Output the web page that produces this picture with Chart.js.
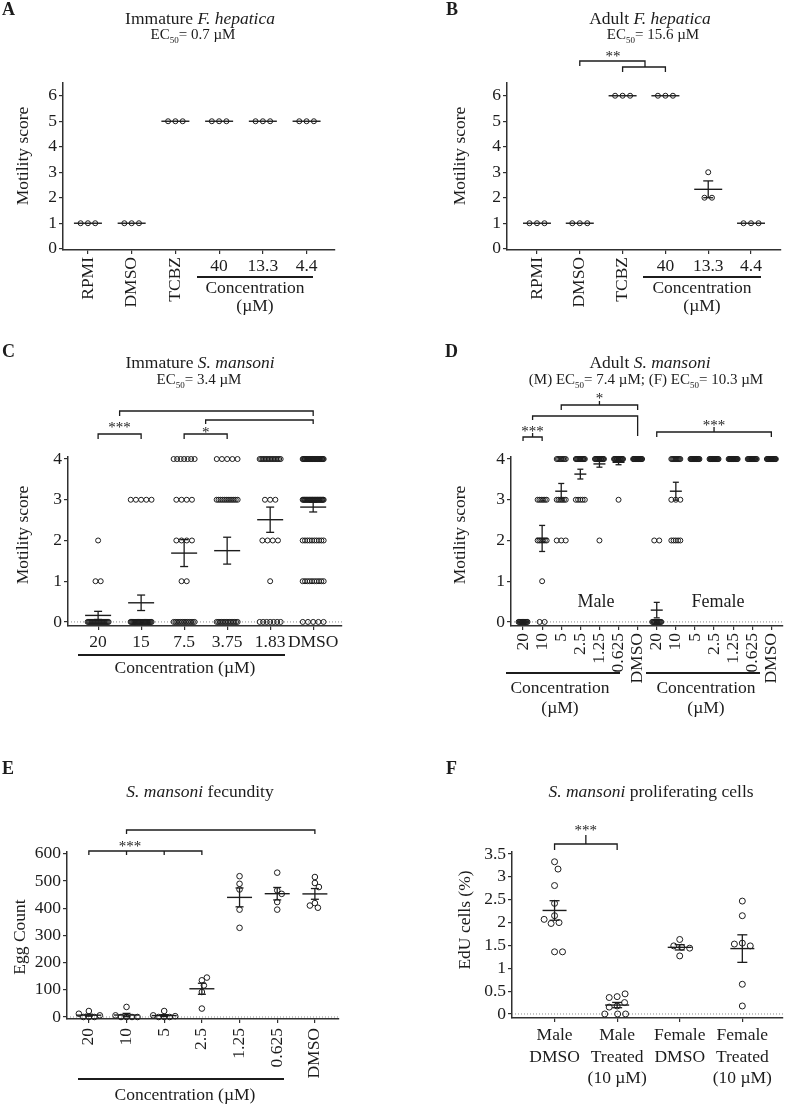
<!DOCTYPE html>
<html><head><meta charset="utf-8">
<script src="https://cdn.jsdelivr.net/npm/chart.js@4.4.0/dist/chart.umd.min.js"></script>
<style>
html,body{margin:0;padding:0;background:#fff;}
body{width:787px;height:1107px;position:relative;overflow:hidden;}
canvas{position:absolute;}
</style></head><body>
<canvas id="cA"></canvas><canvas id="cB"></canvas><canvas id="cC"></canvas>
<canvas id="cD"></canvas><canvas id="cE"></canvas><canvas id="cF"></canvas>
<script>
// ---------------- DATA ----------------
const aCats = ['RPMI','DMSO','TCBZ','40','13.3','4.4'];
const aScores = [[1,1,1],[1,1,1],[5,5,5],[5,5,5],[5,5,5],[5,5,5]];
const aMeans = [1,1,5,5,5,5];
const aSems = [0,0,0,0,0,0];

const bCats = ['RPMI','DMSO','TCBZ','40','13.3','4.4'];
const bScores = [[1,1,1],[1,1,1],[6,6,6],[6,6,6],[3,2,2],[1,1,1]];
const bMeans = [1,1,6,6,2.33,1];
const bSems = [0,0,0,0,0.33,0];

const fhTicks = [0,1,2,3,4,5,6];

// counts of worms with motility score 0,1,2,3,4
const cCats = ['20','15','7.5','3.75','1.83','DMSO'];
const cCounts = [[22,2,1,0,0],[25,0,0,5,0],[13,2,4,4,7],[14,0,0,12,5],[7,1,4,3,15],[5,10,10,30,30]];
const cMeans = [0.16,0.47,1.69,1.75,2.51,2.82];
const cSems = [0.10,0.19,0.33,0.33,0.31,0.12];

const dCats = ['20','10','5','2.5','1.25','0.625','DMSO','20','10','5','2.5','1.25','0.625','DMSO'];
const dCounts = [[12,0,0,0,0],[2,1,6,6,0],[0,0,3,6,8],[0,0,0,5,12],[0,0,1,0,14],[0,0,0,1,14],[0,0,0,0,15],
                 [12,0,2,0,0],[0,0,5,3,10],[0,0,0,0,15],[0,0,0,0,15],[0,0,0,0,15],[0,0,0,0,12],[0,0,0,0,15]];
const dMeans = [0,2.05,3.21,3.63,3.88,3.92,4,0.29,3.21,4,4,4,4,4];
const dSems = [0,0.32,0.19,0.12,0.08,0.06,0,0.19,0.22,0,0,0,0,0];

const smTicks = [0,1,2,3,4];

const eCats = ['20','10','5','2.5','1.25','0.625','DMSO'];
const eEggs = [[0,0,0,6,12,22],[0,0,0,0,6,37],[0,0,0,3,6,22],[135,145,116,92,31],
               [518,469,490,395,328],[531,466,453,423,395],[515,493,478,419,402,410]];
const eTicks = [0,100,200,300,400,500,600];

const fCats = [['Male','DMSO'],['Male','Treated','(10 µM)'],['Female','DMSO'],['Female','Treated','(10 µM)']];
const fEdu = [[3.33,3.17,2.81,2.42,2.15,2.0,1.98,2.07,1.36,1.36],
              [0.175,0.25,0.38,0.44,0.36,0.15,0,0,0],
              [1.63,1.46,1.49,1.44,1.27],
              [2.47,2.15,1.55,1.49,1.53,0.65,0.175]];
const fTicks = [0,0.5,1,1.5,2,2.5,3,3.5];

// ---------------- HELPERS ----------------
const FONT = '"Liberation Serif","Times New Roman",serif';
const INK = '#1c1c1c';
const AX = '#303030';
const TS = 17.5;

const expand = counts => counts.flatMap((n,score)=>Array(n).fill(score));
function meanSem(a){const n=a.length;const m=a.reduce((s,v)=>s+v,0)/n;
  const sd=Math.sqrt(a.reduce((s,v)=>s+(v-m)*(v-m),0)/(n-1));return [m,sd/Math.sqrt(n)];}

function fnt(size,style){return (style||'')+' '+size+'px '+FONT;}
function txt(ctx,s,x,y,o){o=o||{};ctx.save();
  ctx.font=fnt(o.size||TS,(o.italic?'italic ':'')+(o.bold?'bold ':''));
  ctx.fillStyle=INK;ctx.textAlign=o.align||'center';ctx.textBaseline=o.baseline||'alphabetic';
  if(o.rot){ctx.translate(x,y);ctx.rotate(o.rot);ctx.fillText(s,0,0);}else ctx.fillText(s,x,y);
  ctx.restore();}
function runFont(r,size){return r[1]==='i'?fnt(size,'italic '):r[1]==='s'?fnt(Math.round(size*0.62)):fnt(size);}
function runs(ctx,parts,cx,y,size){ctx.save();
  const w=parts.map(r=>{ctx.font=runFont(r,size);return ctx.measureText(r[0]).width;});
  let x=cx-w.reduce((a,b)=>a+b,0)/2;
  parts.forEach((r,i)=>{ctx.font=runFont(r,size);ctx.fillStyle=INK;ctx.textAlign='left';ctx.textBaseline='alphabetic';
    ctx.fillText(r[0],x,y+(r[1]==='s'?size*0.28:0));x+=w[i];});
  ctx.restore();}
function poly(ctx,pts,w){ctx.save();ctx.strokeStyle=INK;ctx.lineWidth=w||1.3;ctx.beginPath();
  pts.forEach((p,i)=>i?ctx.lineTo(p[0],p[1]):ctx.moveTo(p[0],p[1]));ctx.stroke();ctx.restore();}
function vLabels(ctx,X,labels,top){labels.forEach((l,i)=>txt(ctx,l,X(i),top,{rot:-Math.PI/2,align:'right',baseline:'middle'}));}
function hLabels(ctx,X,labels,base){labels.forEach((l,i)=>txt(ctx,l,X(i),base));}

function discreteLayout(vals,step,span){const g={};vals.forEach((v,i)=>{(g[v]=g[v]||[]).push(i);});
  const off=new Array(vals.length);
  Object.values(g).forEach(idx=>{const n=idx.length;const s=n>1?Math.min(step,span/(n-1)):0;
    idx.forEach((k,j)=>off[k]=(j-(n-1)/2)*s);});return off;}
function swarmLayout(vals,yPx,diam){const placed=[];const off=[];
  vals.forEach(v=>{const y=yPx(v);let best=0;
    for(let k=0;k<400;k++){const c=k===0?0:(k%2===1?1:-1)*Math.ceil(k/2)*0.5;
      if(placed.every(p=>(c-p[0])*(c-p[0])+(y-p[1])*(y-p[1])>=diam*diam)){best=c;break;}}
    placed.push([best,y]);off.push(best);});return off;}

function makePanel(cfg){
  const cv=document.getElementById(cfg.id);
  const [cx,cy,cw,ch]=cfg.box;const [L,T,R,B]=cfg.area;
  cv.style.left=cx+'px';cv.style.top=cy+'px';cv.width=cw;cv.height=ch;cv.style.width=cw+'px';cv.style.height=ch+'px';
  const chart=new Chart(cv,{type:'scatter',
    data:{datasets:[{data:[],pointRadius:cfg.radius,pointHoverRadius:cfg.radius,pointBorderWidth:cfg.bw||1,
      pointBorderColor:INK,pointBackgroundColor:'rgba(0,0,0,0)',clip:false}]},
    options:{responsive:false,animation:false,devicePixelRatio:1,events:[],
      layout:{padding:{left:0,top:T-cy,right:cx+cw-R,bottom:0}},
      plugins:{legend:{display:false},tooltip:{enabled:false}},
      scales:{
        x:{type:'linear',min:cfg.xMin,max:cfg.xMax,
          afterBuildTicks:s=>{s.ticks=cfg.cats.map((_,i)=>({value:i}));},
          afterFit:s=>{s.height=cy+ch-B;},
          ticks:{display:false,autoSkip:false},
          grid:{display:true,drawOnChartArea:false,drawTicks:true,tickLength:4,color:AX,lineWidth:1.2},
          border:{display:true,color:AX,width:1.5}},
        y:{type:'linear',min:cfg.yMin,max:cfg.yMax,
          afterBuildTicks:s=>{s.ticks=cfg.yTicks.map(v=>({value:v}));},
          afterFit:s=>{s.width=L-cx;},
          ticks:{font:{family:FONT,size:TS},color:INK,padding:2,autoSkip:false,callback:v=>String(v)},
          grid:{display:true,drawOnChartArea:false,drawTicks:true,tickLength:4,color:AX,lineWidth:1.2},
          border:{display:true,color:AX,width:1.5}}
      }},
    plugins:[{id:'deco',
      beforeDatasetsDraw(c){const ctx=c.ctx,xs=c.scales.x,ys=c.scales.y,a=c.chartArea;
        if(cfg.zeroLine){ctx.save();ctx.strokeStyle='#8c8c8c';ctx.lineWidth=1;ctx.setLineDash([1,2]);
          const y=ys.getPixelForValue(0);ctx.beginPath();ctx.moveTo(a.left,y);ctx.lineTo(a.right,y);ctx.stroke();ctx.restore();}
        cfg.groups.forEach((g,i)=>{let m,s;
          if(cfg.means){m=cfg.means[i];s=cfg.sems[i];}else{[m,s]=meanSem(g);}
          const x=xs.getPixelForValue(i),y=ys.getPixelForValue(m);
          poly(ctx,[[x-cfg.meanHalf,y],[x+cfg.meanHalf,y]],1.4);
          if(s>0){const y1=ys.getPixelForValue(m+s),y2=ys.getPixelForValue(m-s);
            poly(ctx,[[x,y1],[x,y2]],1.3);
            poly(ctx,[[x-cfg.capHalf,y1],[x+cfg.capHalf,y1]],1.3);
            poly(ctx,[[x-cfg.capHalf,y2],[x+cfg.capHalf,y2]],1.3);}
        });},
      afterDraw(c){const ctx=c.ctx;ctx.save();ctx.translate(-cx,-cy);
        const X=i=>c.scales.x.getPixelForValue(i)+cx;cfg.decor(ctx,X);ctx.restore();}
    }]});
  const xs=chart.scales.x,ys=chart.scales.y;
  const ppu=xs.getPixelForValue(1)-xs.getPixelForValue(0);
  const pts=[];
  cfg.groups.forEach((vals,i)=>{
    const off=cfg.layout.type==='discrete'?discreteLayout(vals,cfg.layout.step,cfg.layout.span)
      :swarmLayout(vals,v=>ys.getPixelForValue(v),cfg.layout.diam);
    vals.forEach((v,k)=>pts.push({x:i+off[k]/ppu,y:v}));});
  chart.data.datasets[0].data=pts;chart.update('none');
  return chart;
}

function fhDecor(o){return (ctx,X)=>{
  txt(ctx,o.letter,o.lx,15,{bold:true,size:18,align:'left'});
  runs(ctx,[[o.stage,''],['F. hepatica','i']],o.tx,24,TS);
  runs(ctx,[['EC',''],['50','s'],[o.ec,'']],o.ecx,39,15);
  txt(ctx,'Motility score',o.ytx,156,{rot:-Math.PI/2,baseline:'middle'});
  [0,1,2].forEach(i=>txt(ctx,o.cats[i],X(i),257,{rot:-Math.PI/2,align:'right',baseline:'middle'}));
  [3,4,5].forEach(i=>txt(ctx,o.cats[i],X(i),271));
  poly(ctx,[[o.l1,277],[o.l2,277]],2.2);
  txt(ctx,'Concentration',(o.l1+o.l2)/2,293);
  txt(ctx,'(µM)',(o.l1+o.l2)/2,311);
  if(o.extra)o.extra(ctx,X);
};}

// ---------------- PANELS ----------------
makePanel({id:'cA',box:[0,0,393,340],area:[63,83,335,250],cats:aCats,groups:aScores,means:aMeans,sems:aSems,
  xMin:-0.57,xMax:5.65,yMin:-0.05,yMax:6.5,yTicks:fhTicks,layout:{type:'discrete',step:7.3,span:40},
  radius:2.5,meanHalf:14,capHalf:5,zeroLine:false,
  decor:fhDecor({letter:'A',lx:2,stage:'Immature ',tx:200,ec:'= 0.7 µM',ecx:193,ytx:23,cats:aCats,l1:197,l2:313})});

makePanel({id:'cB',box:[393,0,394,340],area:[507,83,781,250],cats:bCats,groups:bScores,means:bMeans,sems:bSems,
  xMin:-0.7,xMax:5.7,yMin:-0.05,yMax:6.5,yTicks:fhTicks,layout:{type:'discrete',step:7.5,span:40},
  radius:2.5,meanHalf:14,capHalf:5,zeroLine:false,
  decor:fhDecor({letter:'B',lx:446,stage:'Adult ',tx:650,ec:'= 15.6 µM',ecx:653,ytx:460,cats:bCats,l1:643,l2:761,
    extra:(ctx,X)=>{
      txt(ctx,'**',613,61,{size:15});
      poly(ctx,[[X(1),66],[X(1),61],[645,61],[645,67]]);
      poly(ctx,[[X(2),72],[X(2),67],[X(3),67],[X(3),72]]);
    }})});

makePanel({id:'cC',box:[0,340,393,360],area:[68,457,342,626],cats:cCats,groups:cCounts.map(expand),means:cMeans,sems:cSems,
  xMin:-0.7,xMax:5.67,yMin:-0.1,yMax:4.05,yTicks:smTicks,layout:{type:'discrete',step:5.2,span:21},
  radius:2.5,meanHalf:13,capHalf:4,zeroLine:true,
  decor:(ctx,X)=>{
    txt(ctx,'C',2,357,{bold:true,size:18,align:'left'});
    runs(ctx,[['Immature ',''],['S. mansoni','i']],200,368,TS);
    runs(ctx,[['EC',''],['50','s'],['= 3.4 µM','']],199,384,15);
    txt(ctx,'Motility score',23,535,{rot:-Math.PI/2,baseline:'middle'});
    const m01=(X(0)+X(1))/2,m23=(X(2)+X(3))/2;
    poly(ctx,[[m01,416],[m01,411],[X(5),411],[X(5),416]]);
    poly(ctx,[[m23,424],[m23,420],[X(5),420],[X(5),424]]);
    poly(ctx,[[X(0),439],[X(0),434],[X(1),434],[X(1),439]]);
    poly(ctx,[[X(2),439],[X(2),434],[X(3),434],[X(3),439]]);
    txt(ctx,'***',m01,432,{size:15});
    txt(ctx,'*',m23,437,{size:15});
    hLabels(ctx,X,cCats,647);
    poly(ctx,[[78,655],[285,655]],2.2);
    txt(ctx,'Concentration (µM)',185,673);
  }});

makePanel({id:'cD',box:[393,340,394,380],area:[511,457,783,626],cats:dCats,groups:dCounts.map(expand),means:dMeans,sems:dSems,
  xMin:-0.63,xMax:13.61,yMin:-0.1,yMax:4.05,yTicks:smTicks,layout:{type:'discrete',step:5,span:9},
  radius:2.5,meanHalf:6,capHalf:3,zeroLine:true,
  decor:(ctx,X)=>{
    txt(ctx,'D',445,357,{bold:true,size:18,align:'left'});
    runs(ctx,[['Adult ',''],['S. mansoni','i']],650,368,TS);
    runs(ctx,[['(M) EC',''],['50','s'],['= 7.4 µM; (F) EC',''],['50','s'],['= 10.3 µM','']],646,384,15);
    txt(ctx,'Motility score',460,535,{rot:-Math.PI/2,baseline:'middle'});
    const m26=(X(2)+X(6))/2,m01=(X(0)+X(1))/2,mF=(X(7)+X(13))/2;
    poly(ctx,[[X(2),410],[X(2),405],[X(6),405],[X(6),410]]);
    poly(ctx,[[m26,405],[m26,401]]);
    txt(ctx,'*',m26,403,{size:15});
    poly(ctx,[[m01,420],[m01,416],[X(6),416],[X(6),436]]);
    poly(ctx,[[X(0),441],[X(0),437],[X(1),437],[X(1),441]]);
    poly(ctx,[[m01,437],[m01,433]]);
    txt(ctx,'***',m01,436,{size:15});
    poly(ctx,[[X(7),437],[X(7),432],[X(13),432],[X(13),437]]);
    poly(ctx,[[mF,432],[mF,427]]);
    txt(ctx,'***',mF,430,{size:15});
    txt(ctx,'Male',596,607,{size:18});
    txt(ctx,'Female',718,607,{size:18});
    vLabels(ctx,X,dCats,633);
    poly(ctx,[[506,673],[620,673]],2.2);
    poly(ctx,[[646,673],[760,673]],2.2);
    txt(ctx,'Concentration',560,693);txt(ctx,'Concentration',706,693);
    txt(ctx,'(µM)',560,713);txt(ctx,'(µM)',706,713);
  }});

makePanel({id:'cE',box:[0,700,393,407],area:[67,852,339,1019],cats:eCats,groups:eEggs,
  xMin:-0.58,xMax:6.64,yMin:-7.4,yMax:607,yTicks:eTicks,layout:{type:'swarm',diam:5.5},
  radius:2.8,meanHalf:12.5,capHalf:4,zeroLine:true,
  decor:(ctx,X)=>{
    txt(ctx,'E',2,774,{bold:true,size:18,align:'left'});
    runs(ctx,[['S. mansoni','i'],[' fecundity','']],200,797,TS);
    txt(ctx,'Egg Count',20,937,{rot:-Math.PI/2,baseline:'middle'});
    poly(ctx,[[X(0),855],[X(0),851],[X(3),851],[X(3),855]]);
    poly(ctx,[[X(1),851],[X(1),855]]);poly(ctx,[[X(2),851],[X(2),855]]);
    poly(ctx,[[X(1),834],[X(1),830],[X(6),830],[X(6),834]]);
    txt(ctx,'***',130,851,{size:15});
    vLabels(ctx,X,eCats,1028);
    poly(ctx,[[78,1079],[284,1079]],2.2);
    txt(ctx,'Concentration (µM)',185,1100);
  }});

makePanel({id:'cF',box:[393,720,394,387],area:[512,852,785,1018],cats:fCats,groups:fEdu,
  xMin:-0.68,xMax:3.65,yMin:-0.088,yMax:3.544,yTicks:fTicks,layout:{type:'swarm',diam:8},
  radius:3,meanHalf:12,capHalf:5,zeroLine:true,
  decor:(ctx,X)=>{
    txt(ctx,'F',446,774,{bold:true,size:18,align:'left'});
    runs(ctx,[['S. mansoni','i'],[' proliferating cells','']],651,797,TS);
    txt(ctx,'EdU cells (%)',465,920,{rot:-Math.PI/2,baseline:'middle'});
    poly(ctx,[[X(0),850],[X(0),844],[X(1),844],[X(1),850]]);
    const m=(X(0)+X(1))/2;poly(ctx,[[m,844],[m,835]]);
    txt(ctx,'***',m,835,{size:15});
    fCats.forEach((lines,i)=>lines.forEach((l,j)=>txt(ctx,l,X(i),1040+j*21.5)));
  }});
</script>
</body></html>
